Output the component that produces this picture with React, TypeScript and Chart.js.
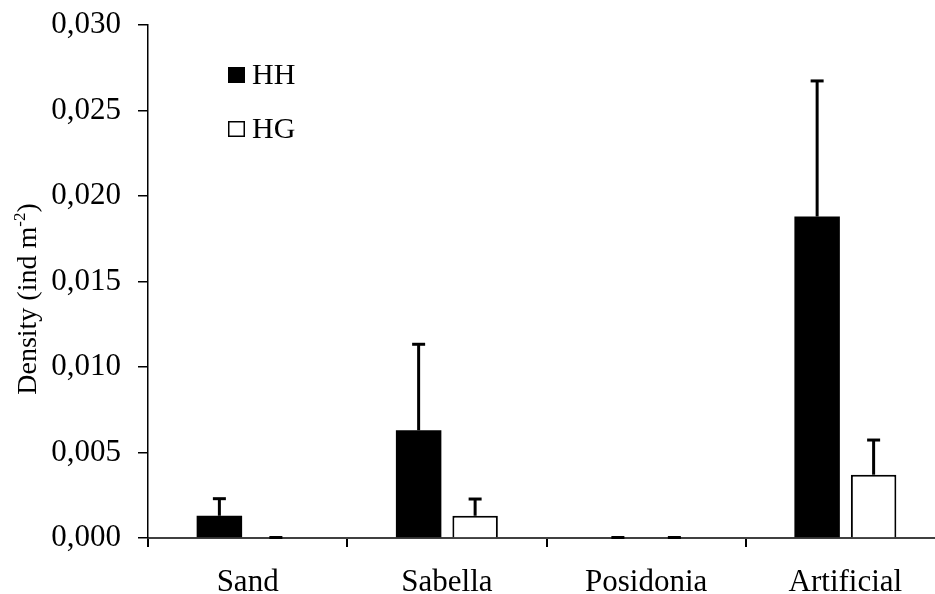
import React, { useEffect, useRef } from 'react';
import { Chart, registerables } from 'chart.js';

Chart.register(...registerables);

const categories = ['Sand', 'Sabella', 'Posidonia', 'Artificial'];
const seriesLabels = ['HH', 'HG'];
const hhValues = [0.0013, 0.0063, 0, 0.0188];
const hgValues = [0, 0.0013, 0, 0.0037];
const hhErrors = [0.00097, 0.005, 0, 0.0079];
const hgErrors = [0, 0.00095, 0, 0.002];
const yMin = 0;
const yMax = 0.03;
const yStep = 0.005;
const yTitleMain = 'Density (ind m';
const yTitleSup = '-2';
const yTitleEnd = ')';

const FONT = '"Liberation Serif", "Times New Roman", serif';

const errorBarPlugin = {
  id: 'errorBars',
  afterDatasetsDraw(chart: any) {
    const ctx = chart.ctx;
    const yScale = chart.scales.y;
    const errs = [hhErrors, hgErrors];
    ctx.save();
    ctx.strokeStyle = '#000';
    ctx.lineWidth = 3;
    ctx.lineCap = 'butt';
    chart.data.datasets.forEach((ds: any, i: number) => {
      const meta = chart.getDatasetMeta(i);
      meta.data.forEach((bar: any, j: number) => {
        const v = ds.data[j];
        const e = errs[i][j];
        const x = bar.x;
        const y0 = yScale.getPixelForValue(v);
        const y1 = yScale.getPixelForValue(v + e);
        ctx.beginPath();
        ctx.moveTo(x, y0);
        ctx.lineTo(x, y1);
        ctx.stroke();
        ctx.beginPath();
        ctx.moveTo(x - 6.5, y1 - 0.5);
        ctx.lineTo(x + 6.5, y1 - 0.5);
        ctx.stroke();
      });
    });
    ctx.restore();
  },
};

const decorPlugin = {
  id: 'decor',
  afterDraw(chart: any) {
    const ctx = chart.ctx;
    ctx.save();
    // legend
    const boxX = 228;
    const rows = [75, 129];
    chart.data.datasets.forEach((ds: any, i: number) => {
      const cy = rows[i];
      if (i === 0) {
        ctx.fillStyle = '#000';
        ctx.fillRect(boxX, cy - 8, 17, 16);
      } else {
        ctx.fillStyle = '#fff';
        ctx.fillRect(boxX, cy - 8, 17, 16);
        ctx.strokeStyle = '#000';
        ctx.lineWidth = 1.5;
        ctx.strokeRect(boxX + 0.75, cy - 7.25, 15.5, 14.5);
      }
      ctx.fillStyle = '#000';
      ctx.font = `30px ${FONT}`;
      ctx.textBaseline = 'middle';
      ctx.textAlign = 'left';
      ctx.fillText(ds.label, 252, cy + 1);
    });
    // y title with superscript
    ctx.translate(27, 299);
    ctx.rotate(-Math.PI / 2);
    const mainFont = `28px ${FONT}`;
    const supFont = `17px ${FONT}`;
    ctx.font = mainFont;
    const w1 = ctx.measureText(yTitleMain).width;
    const w3 = ctx.measureText(yTitleEnd).width;
    ctx.font = supFont;
    const w2 = ctx.measureText(yTitleSup).width;
    let x = -(w1 + w2 + w3) / 2;
    ctx.textBaseline = 'alphabetic';
    ctx.textAlign = 'left';
    ctx.fillStyle = '#000';
    ctx.font = mainFont;
    ctx.fillText(yTitleMain, x, 9);
    x += w1;
    ctx.font = supFont;
    ctx.fillText(yTitleSup, x, -2);
    x += w2;
    ctx.font = mainFont;
    ctx.fillText(yTitleEnd, x, 9);
    ctx.restore();
  },
};

export default function App() {
  const ref = useRef<HTMLCanvasElement | null>(null);

  useEffect(() => {
    if (!ref.current) return;
    const chart = new Chart(ref.current, {
      type: 'bar',
      data: {
        labels: categories,
        datasets: [
          {
            label: seriesLabels[0],
            data: hhValues,
            backgroundColor: '#000',
            borderColor: '#000',
            borderWidth: 0,
            categoryPercentage: 0.567,
            barPercentage: 0.805,
          },
          {
            label: seriesLabels[1],
            data: hgValues,
            backgroundColor: '#fff',
            borderColor: '#000',
            borderWidth: 2,
            borderSkipped: 'bottom',
            categoryPercentage: 0.567,
            barPercentage: 0.805,
          },
        ],
      },
      options: {
        animation: false,
        responsive: false,
        devicePixelRatio: 1,
        layout: { padding: { top: 25, right: 0, left: 0, bottom: 0 } },
        plugins: {
          legend: { display: false },
          tooltip: { enabled: false },
          title: { display: false },
        },
        scales: {
          x: {
            afterFit: (s: any) => {
              s.height = 56;
              s.paddingLeft = 0;
              s.paddingRight = 0;
            },
            grid: {
              display: true,
              drawOnChartArea: false,
              drawTicks: true,
              tickLength: 9,
              color: '#000',
              lineWidth: 2,
              offset: true,
            },
            border: { display: true, color: '#404040', width: 2 },
            ticks: {
              color: '#000',
              font: { family: FONT, size: 31 },
              padding: 17,
              maxRotation: 0,
            },
          },
          y: {
            min: yMin,
            max: yMax,
            afterFit: (s: any) => {
              s.width = 148;
              s.paddingTop = 0;
              s.paddingBottom = 0;
            },
            grid: {
              display: true,
              drawOnChartArea: false,
              drawTicks: true,
              tickLength: 10,
              color: '#000',
              lineWidth: 1.5,
            },
            border: { display: true, color: '#000', width: 1.5 },
            ticks: {
              stepSize: yStep,
              color: '#000',
              font: { family: FONT, size: 31 },
              padding: 17,
              callback: (v: any) => Number(v).toFixed(3).replace('.', ','),
            },
          },
        },
      },
      plugins: [errorBarPlugin, decorPlugin],
    });
    return () => chart.destroy();
  }, []);

  return (
    <div
      style={{
        position: 'fixed',
        left: 0,
        top: 0,
        width: 935,
        height: 594,
        overflow: 'hidden',
        background: '#fff',
      }}
    >
      <canvas ref={ref} width={945} height={594} style={{ display: 'block' }} />
    </div>
  );
}
